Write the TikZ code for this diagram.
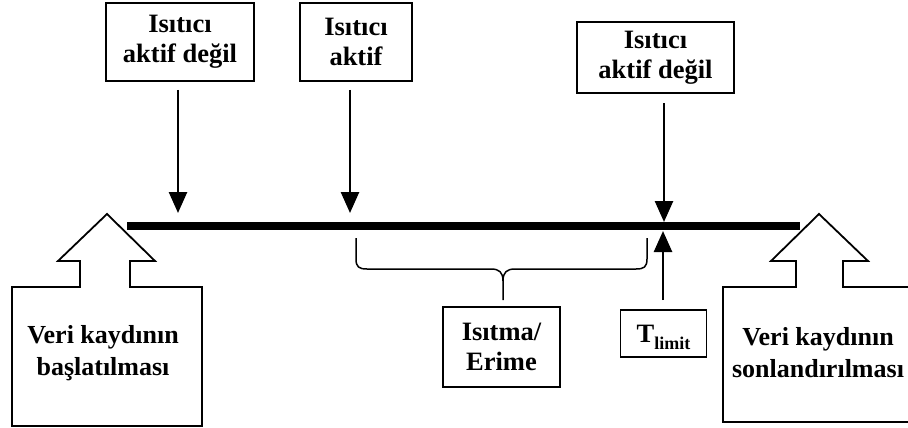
\documentclass[tikz,border=0pt]{standalone}
\usepackage{fontspec}
\setmainfont{Liberation Serif}
\usetikzlibrary{arrows.meta}
\tikzset{
  lbl/.style={draw=black, line width=1.8pt, fill=white, inner sep=0pt, align=center,
    font=\fontsize{26.5}{30}\selectfont\bfseries},
  txt/.style={inner sep=0pt, align=center, font=\fontsize{26}{32}\selectfont\bfseries},
  arr/.style={line width=2.6pt, -{Triangle[width=18pt,length=21pt]}},
  blockarr/.style={draw=black, line width=1.8pt, fill=white},
  timeline/.style={line width=8.5pt},
  brace/.style={line width=1.5pt}
}
\begin{document}
\begin{tikzpicture}[x=1pt,y=-1pt]
\useasboundingbox (0,0) rectangle (908,428);
\fill[white] (0,0) rectangle (908,428);
% time line
\coordinate (tl) at (127,226);
\coordinate (tr) at (800,226);
\draw[timeline] (tl) -- (tr);
% top labels
\node[lbl, minimum width=148pt, minimum height=78pt] (b1) at (180,42) {Isıtıcı\\aktif değil};
\node[lbl, minimum width=112pt, minimum height=78pt] (b2) at (356,42) {Isıtıcı\\aktif};
\node[lbl, minimum width=157pt, minimum height=71pt] (b3) at (655.5,57.5) {Isıtıcı\\aktif değil};
% arrows down
\coordinate (a1s) at (178,90);  \coordinate (a1e) at (178,213);
\coordinate (a2s) at (350,90);  \coordinate (a2e) at (350,213);
\coordinate (a3s) at (664,103); \coordinate (a3e) at (664,222);
\draw[arr] (a1s) -- (a1e);
\draw[arr] (a2s) -- (a2e);
\draw[arr] (a3s) -- (a3e);
% lower labels
\node[lbl, minimum width=117pt, minimum height=80pt] (b4) at (501.5,347) {Isıtma/\\Erime};
\node[lbl, minimum width=86pt, minimum height=47pt] (b5) at (663.5,333.5) {T\raisebox{-7pt}[0pt][0pt]{\fontsize{18}{18}\selectfont limit}};
% up arrow to T limit
\coordinate (a4s) at (663,300); \coordinate (a4e) at (663,231);
\draw[arr] (a4s) -- (a4e);
% brace
\coordinate (brl) at (356,238);
\coordinate (brr) at (647,238);
\coordinate (brm) at (503,300);
\draw[brace] (brl) -- (356,259) .. controls (356,267) and (359,269) .. (367,269)
  -- (491,269) .. controls (499,269) and (503,272) .. (503,281) -- (brm);
\draw[brace] (brr) -- (647,259) .. controls (647,267) and (644,269) .. (636,269)
  -- (515,269) .. controls (507,269) and (503,272) .. (503,281);
% block arrows
\draw[blockarr] (12,426) -- (12,287) -- (80,287) -- (80,261) -- (58,261) -- (107,214)
  -- (155,261) -- (130,261) -- (130,287) -- (202,287) -- (202,426) -- cycle;
\draw[blockarr] (723,422) -- (723,287) -- (796,287) -- (796,261) -- (771,261) -- (819,214)
  -- (868,261) -- (843,261) -- (843,287) -- (916,287) -- (916,422) -- cycle;
\node[txt] (s1) at (103,353) {Veri kaydının\\başlatılması};
\node[txt] (s2) at (818,353) {Veri kaydının\\sonlandırılması};
\end{tikzpicture}
\end{document}
